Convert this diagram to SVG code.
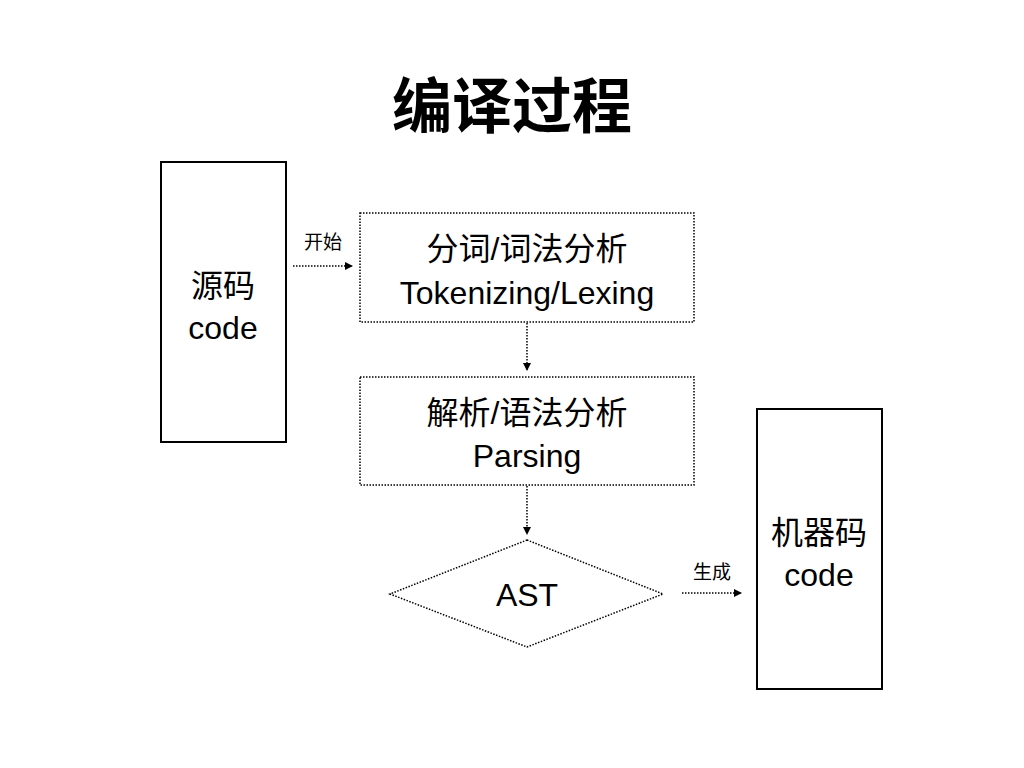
<svg xmlns="http://www.w3.org/2000/svg" width="1024" height="768" viewBox="0 0 1024 768">
<style>
text{font-family:"Liberation Sans","Noto Sans CJK SC",sans-serif;fill:#000;text-anchor:middle}
.t{font-size:32px}
.s{font-size:19px}
.solid{fill:#fff;stroke:#000;stroke-width:2}
.dot{fill:#fff;stroke:#000;stroke-width:1.5;stroke-dasharray:1.5 1.5}
.conn{fill:none;stroke:#000;stroke-width:1.5;stroke-dasharray:1.5 1.5}
</style>
<defs>
<marker id="ah" markerWidth="8" markerHeight="8" refX="7" refY="4" orient="auto" markerUnits="userSpaceOnUse">
<path d="M0,0 L8,4 L0,8 Z" fill="#000"/>
</marker>
</defs>
<rect width="1024" height="768" fill="#fff"/>
<text x="512" y="128" style="font-size:60px;font-weight:bold">编译过程</text>
<g id="connectors">
<line class="conn" x1="293" y1="266" x2="352" y2="266" marker-end="url(#ah)"/>
<line class="conn" x1="527" y1="323" x2="527" y2="370" marker-end="url(#ah)"/>
<line class="conn" x1="527" y1="486" x2="527" y2="534" marker-end="url(#ah)"/>
<line class="conn" x1="682" y1="593" x2="741" y2="593" marker-end="url(#ah)"/>
<text class="s" x="323" y="249">开始</text>
<text class="s" x="712" y="579">生成</text>
</g>
<g id="source">
<rect class="solid" x="161" y="162" width="125" height="280"/>
<text class="t" x="223" y="297">源码</text>
<text class="t" x="223" y="339">code</text>
</g>
<g id="lexing">
<rect class="dot" x="360" y="213" width="334" height="109"/>
<text class="t" x="527" y="260">分词/词法分析</text>
<text class="t" x="527" y="304">Tokenizing/Lexing</text>
</g>
<g id="parsing">
<rect class="dot" x="360" y="377" width="334" height="108"/>
<text class="t" x="527" y="424">解析/语法分析</text>
<text class="t" x="527" y="467">Parsing</text>
</g>
<g id="ast">
<polygon class="dot" points="527,540 663,594 527,647 390,594"/>
<text class="t" x="527" y="606">AST</text>
</g>
<g id="machine">
<rect class="solid" x="757" y="409" width="125" height="280"/>
<text class="t" x="819" y="544">机器码</text>
<text class="t" x="819" y="586">code</text>
</g>
</svg>
